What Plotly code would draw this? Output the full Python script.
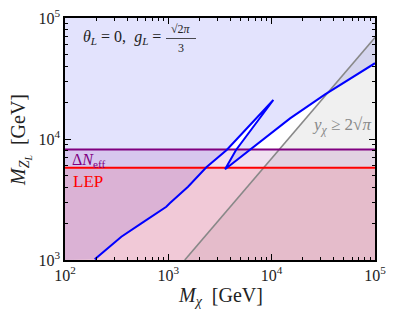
import plotly.graph_objects as go

# ---- data ----
curve_x = [194, 351, 548, 956, 1032, 1551, 2333, 3670, 10380, 4520, 3540, 6170, 15070, 32900, 100000]
curve_y = [1013, 1558, 2010, 2757, 2942, 4035, 5834, 8110, 21000, 8110, 5620, 8110, 14800, 23400, 42300]

gray_x = [1442, 100000]
gray_y = [1000, 69000]

dneff_level = 8200
lep_level = 5800

x_range = [100, 100000]
y_range = [1000, 100000]

x_ticks = [100, 1000, 10000, 100000]
x_labels = ["10<sup>2</sup>", "10<sup>3</sup>", "10<sup>4</sup>", "10<sup>5</sup>"]
y_ticks = [1000, 10000, 100000]
y_labels = ["10<sup>3</sup>", "10<sup>4</sup>", "10<sup>5</sup>"]
x_minor = [m * d for d in (100, 1000, 10000) for m in range(2, 10)]
y_minor = [m * d for d in (1000, 10000) for m in range(2, 10)]

FONT = "Liberation Serif"
fig = go.Figure()

# blue allowed-region fill (above/left of curve)
bx = [x_range[0]] + curve_x + [x_range[1], x_range[0]]
by = [y_range[0]] + curve_y + [y_range[1], y_range[1]]
fig.add_trace(go.Scatter(x=bx, y=by, fill="toself", mode="none",
                         fillcolor="rgba(40,40,240,0.13)", hoverinfo="skip"))
# gray region (y_chi >= 2 sqrt(pi))
fig.add_trace(go.Scatter(x=[gray_x[0], gray_x[1], x_range[1], gray_x[0]],
                         y=[gray_y[0], gray_y[1], y_range[0], gray_y[0]],
                         fill="toself", mode="none", fillcolor="rgba(0,0,0,0.06)", hoverinfo="skip"))
# Delta N_eff band
fig.add_trace(go.Scatter(x=[x_range[0], x_range[1], x_range[1], x_range[0], x_range[0]],
                         y=[y_range[0], y_range[0], dneff_level, dneff_level, y_range[0]],
                         fill="toself", mode="none", fillcolor="rgba(128,0,128,0.12)", hoverinfo="skip"))
# LEP band
fig.add_trace(go.Scatter(x=[x_range[0], x_range[1], x_range[1], x_range[0], x_range[0]],
                         y=[y_range[0], y_range[0], lep_level, lep_level, y_range[0]],
                         fill="toself", mode="none", fillcolor="rgba(255,0,0,0.10)", hoverinfo="skip"))

# lines
fig.add_trace(go.Scatter(x=gray_x, y=gray_y, mode="lines", line=dict(color="#888888", width=1.6)))
fig.add_trace(go.Scatter(x=x_range, y=[dneff_level, dneff_level], mode="lines",
                         line=dict(color="#800080", width=2)))
fig.add_trace(go.Scatter(x=x_range, y=[lep_level, lep_level], mode="lines",
                         line=dict(color="#ff0000", width=2)))
fig.add_trace(go.Scatter(x=curve_x, y=curve_y, mode="lines", line=dict(color="#0000ff", width=2)))

# invisible trace carrying the minor-tick axes
fig.add_trace(go.Scatter(x=x_range, y=y_range, mode="markers", marker=dict(opacity=0),
                         xaxis="x2", yaxis="y2", hoverinfo="skip"))

L, R, T, B = 65, 24, 18, 59
W, H = 399, 319
pw, ph = W - L - R, H - T - B


def px(xp):
    return (xp - L) / pw


def py(yp):
    return (H - B - yp) / ph


axis_common = dict(
    type="log", showgrid=False, zeroline=False, showline=True, linecolor="black", linewidth=1.5,
    mirror="allticks", ticks="inside", ticklen=6, tickwidth=1, tickcolor="black",
    tickfont=dict(family=FONT, size=16, color="#222"), automargin=False,
)
minor_common = dict(
    type="log", showgrid=False, zeroline=False, showline=False, mirror="allticks",
    ticks="inside", ticklen=3, tickwidth=1, tickcolor="black", showticklabels=False,
)

fig.update_layout(
    width=W, height=H, margin=dict(l=L, r=R, t=T, b=B),
    plot_bgcolor="white", paper_bgcolor="white", showlegend=False,
    xaxis=dict(range=[2, 5], tickvals=x_ticks, ticktext=x_labels, **axis_common),
    yaxis=dict(range=[3, 5], tickvals=y_ticks, ticktext=y_labels, **axis_common),
    xaxis2=dict(range=[2, 5], tickvals=x_minor, overlaying="x", anchor="y2", **minor_common),
    yaxis2=dict(range=[3, 5], tickvals=y_minor, overlaying="y", anchor="x2", **minor_common),
)


def note(text, xp, yp, size, color="#222", xa="center", ya="middle", angle=0):
    return dict(text=text, x=px(xp), y=py(yp), xref="paper", yref="paper", showarrow=False,
                xanchor=xa, yanchor=ya, textangle=angle, font=dict(family=FONT, size=size, color=color))


ann = [
    note("<i>M</i><sub><i>χ</i></sub>  [GeV]", 221, 296, 20),
    note("<i>M</i><sub><i>Z</i><sub><i>L</i></sub></sub>  [GeV]", 20, 140, 20, angle=-90),
    note("<i>θ</i><sub><i>L</i></sub> = 0,  <i>g</i><sub><i>L</i></sub> =", 81, 38, 16, xa="left"),
    note("√2<i>π</i>", 181, 37.5, 12, ya="bottom"),
    note("3", 181, 39, 12, ya="top"),
    note("Δ<i>N</i><sub>eff</sub>", 70, 161, 16, color="#800080", xa="left"),
    note("LEP", 71, 181, 17, color="#ff0000", xa="left"),
    note("<i>y</i><sub><i>χ</i></sub> ≥ 2√<i>π</i>", 373, 126, 17, color="#888888", xa="right"),
]
fig.update_layout(annotations=ann)
fig.add_shape(type="line", xref="paper", yref="paper", x0=px(166), x1=px(196), y0=py(38.5), y1=py(38.5),
              line=dict(color="#222", width=0.8))

fig.write_html("out.html", config={"displayModeBar": False},
               post_script="document.body.style.margin='0';document.body.style.padding='0';")
